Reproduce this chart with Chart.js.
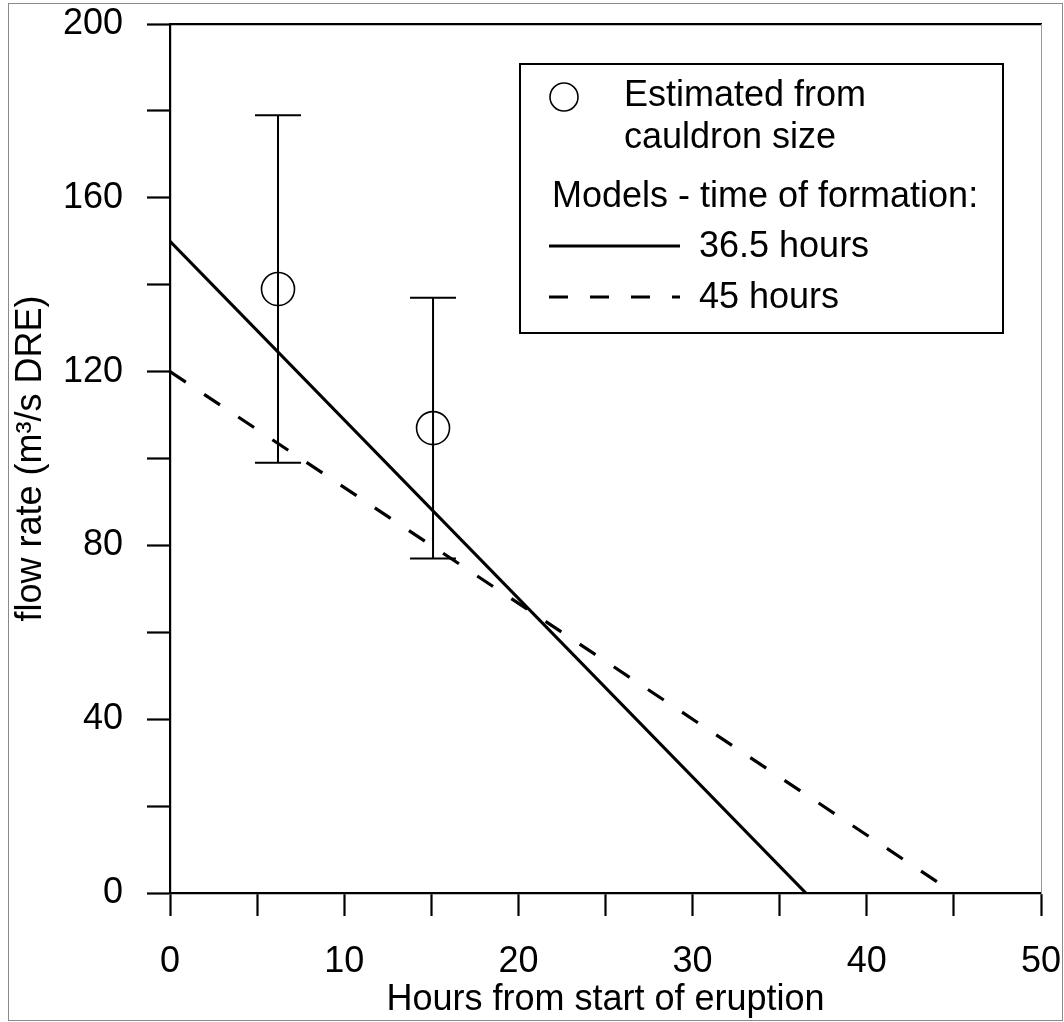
<!DOCTYPE html>
<html>
<head>
<meta charset="utf-8">
<script src="https://cdn.jsdelivr.net/npm/chart.js@4/dist/chart.umd.min.js"></script>
<style>
  html, body { margin: 0; padding: 0; background: #fff; }
  #wrap { position: relative; width: 1064px; height: 1022px; }
  #frame { position: absolute; left: 8px; top: 3px; width: 1053px; height: 1016px; border: 1px solid #8a8a8a; pointer-events: none; }
  canvas { display: block; }
</style>
</head>
<body>
<div id="wrap"><canvas id="chart" width="1064" height="1022"></canvas><div id="frame"></div></div>
<script>
/* flow rate vs hours from start of eruption */

// cauldron-size estimates, with error ranges
var obsHours = [6.2, 15.1];
var obsFlow  = [139, 107];
var obsLow   = [99, 77];
var obsHigh  = [179, 137];

// model lines (time of formation)
var fit365Hours = [0, 36.5];
var fit365Flow  = [150, 0];
var fit45Hours  = [0, 45];
var fit45Flow   = [120, 0];

// labelled ticks
var xLabels = [0, 10, 20, 30, 40, 50];
var yLabels = [0, 40, 80, 120, 160, 200];

var legendObs   = ['Estimated from', 'cauldron size'];
var legendHead  = 'Models - time of formation:';
var legendLines = ['36.5 hours', '45 hours'];

var FONT = '"Liberation Sans", Arial, sans-serif';

function toXY(xs, ys) {
  return xs.map(function(x, i){ return { x: x, y: ys[i] }; });
}

// fixed axis sizes, no label overflow margins
function fixSize(w, h) {
  return function(s) {
    if (w !== null) s.width = w;
    if (h !== null) s.height = h;
    s.paddingTop = 0; s.paddingBottom = 0; s.paddingLeft = 0; s.paddingRight = 0;
  };
}

// vertical error bars with caps, positioned through the chart scales
var errorBars = {
  id: 'errorBars',
  afterDatasetsDraw: function(chart) {
    var ctx = chart.ctx, xs = chart.scales.x, ys = chart.scales.y;
    ctx.save();
    ctx.strokeStyle = '#000';
    ctx.lineWidth = 2;
    for (var i = 0; i < obsHours.length; i++) {
      var px = xs.getPixelForValue(obsHours[i]);
      var pLo = ys.getPixelForValue(obsLow[i]);
      var pHi = ys.getPixelForValue(obsHigh[i]);
      ctx.beginPath();
      ctx.moveTo(px, pLo); ctx.lineTo(px, pHi);
      ctx.moveTo(px - 23, pLo); ctx.lineTo(px + 23, pLo);
      ctx.moveTo(px - 23, pHi); ctx.lineTo(px + 23, pHi);
      ctx.stroke();
    }
    ctx.restore();
  }
};

// boxed legend in the upper right
var boxLegend = {
  id: 'boxLegend',
  afterDraw: function(chart) {
    var ctx = chart.ctx;
    ctx.save();
    ctx.strokeStyle = '#000';
    ctx.fillStyle = '#000';
    ctx.lineWidth = 2;
    ctx.strokeRect(520, 64, 483, 269);

    ctx.lineWidth = 1.6;
    ctx.beginPath();
    ctx.arc(564, 97, 14, 0, Math.PI * 2);
    ctx.stroke();

    ctx.font = '36px ' + FONT;
    ctx.textBaseline = 'middle';
    ctx.textAlign = 'left';
    ctx.fillText(legendObs[0], 624, 96);
    ctx.fillText(legendObs[1], 624, 138);
    ctx.fillText(legendHead, 552, 197);
    ctx.fillText(legendLines[0], 699, 247);
    ctx.fillText(legendLines[1], 699, 298);

    ctx.lineWidth = 3.2;
    ctx.beginPath();
    ctx.moveTo(549, 246); ctx.lineTo(680, 246);
    ctx.stroke();
    ctx.setLineDash([19, 22]);
    ctx.beginPath();
    ctx.moveTo(549, 297); ctx.lineTo(680, 297);
    ctx.stroke();
    ctx.restore();
  }
};

new Chart(document.getElementById('chart'), {
  type: 'scatter',
  data: {
    datasets: [
      { label: '36.5 hours', data: toXY(fit365Hours, fit365Flow), showLine: true,
        borderColor: '#000', borderWidth: 3.2, pointRadius: 0, fill: false },
      { label: '45 hours', data: toXY(fit45Hours, fit45Flow), showLine: true,
        borderColor: '#000', borderWidth: 3.2, borderDash: [19, 22], pointRadius: 0, fill: false },
      { label: 'Estimated from cauldron size', data: toXY(obsHours, obsFlow), showLine: false,
        pointStyle: 'circle', pointRadius: 16.5, pointBorderWidth: 1.6,
        pointBorderColor: '#000', pointBackgroundColor: 'rgba(0,0,0,0)' }
    ]
  },
  options: {
    responsive: false,
    animation: false,
    devicePixelRatio: 1,
    layout: { padding: { left: 0, right: 23, top: 24, bottom: 0 } },
    plugins: { legend: { display: false }, tooltip: { enabled: false } },
    scales: {
      x: {
        type: 'linear', position: 'bottom', min: 0, max: 50,
        afterFit: fixSize(null, 129),
        ticks: {
          stepSize: 5, autoSkip: false, maxRotation: 0, padding: 24, color: '#000',
          font: { family: FONT, size: 36 },
          callback: function(v){ return xLabels.indexOf(v) >= 0 ? String(v) : ''; }
        },
        grid: { drawOnChartArea: false, drawTicks: true, tickLength: 23, tickWidth: 2.2, tickColor: '#000' },
        border: { display: true, color: '#000', width: 2.2 },
        title: { display: true, text: 'Hours from start of eruption', color: '#000',
                 font: { family: FONT, size: 36 }, padding: { top: 0, bottom: 0 } }
      },
      y: {
        type: 'linear', position: 'left', min: 0, max: 200,
        afterFit: fixSize(170, null),
        ticks: {
          stepSize: 20, autoSkip: false, padding: 24, color: '#000',
          font: { family: FONT, size: 36 },
          callback: function(v){ return yLabels.indexOf(v) >= 0 ? String(v) : ''; }
        },
        grid: { drawOnChartArea: false, drawTicks: true, tickLength: 23, tickWidth: 2.2, tickColor: '#000' },
        border: { display: true, color: '#000', width: 2.2 },
        title: { display: true, text: 'flow rate (m³/s DRE)', color: '#000',
                 font: { family: FONT, size: 36 }, padding: { top: 9, bottom: 0 } }
      },
      xTop: {
        type: 'linear', axis: 'x', position: 'top', min: 0, max: 50,
        afterFit: fixSize(null, 0),
        ticks: { display: false },
        grid: { drawOnChartArea: false, drawTicks: false },
        border: { display: true, color: '#000', width: 2.2 }
      },
      yRight: {
        type: 'linear', axis: 'y', position: 'right', min: 0, max: 200,
        afterFit: fixSize(0, null),
        ticks: { display: false },
        grid: { drawOnChartArea: false, drawTicks: false },
        border: { display: true, color: '#999', width: 1 }
      }
    }
  },
  plugins: [errorBars, boxLegend]
});
</script>
</body>
</html>
